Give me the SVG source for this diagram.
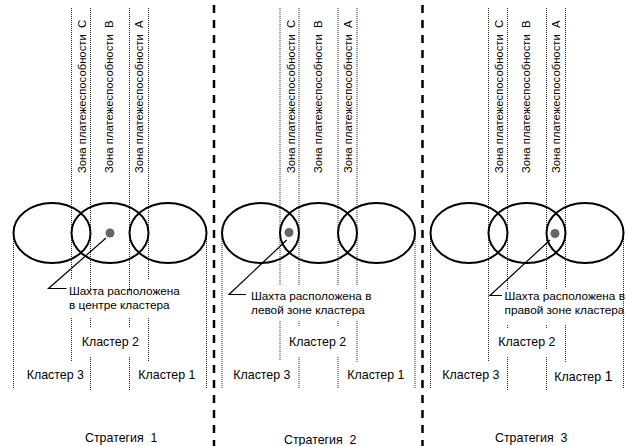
<svg xmlns="http://www.w3.org/2000/svg" width="626" height="446" viewBox="0 0 626 446">
<style>
text{font-family:"Liberation Sans",Arial,sans-serif;fill:#000}
.vt{font-size:11.3px;white-space:pre}
.lb{font-size:11.8px}
.cl{font-size:12.4px}
.st{font-size:12.4px;white-space:pre}
.dot{fill:none;stroke:#222;stroke-width:1;stroke-dasharray:1 1}
.el{fill:none;stroke:#000;stroke-width:2}
.mine{fill:#666}
.sep{fill:none;stroke:#000;stroke-width:2.5;stroke-dasharray:8 7}
.ld{fill:none;stroke:#000;stroke-width:1.2}
</style>
<rect width="626" height="446" fill="#fff"/>

<g id="separators">
<path class="sep" d="M214 5V446M422.5 5V446"/>
</g>

<g id="gridlines">
<path class="dot" d="M71.5 8V280M71.5 318V361M90.5 8V291M90.5 318V328M90.5 357V390M129.5 8V291M129.5 318V328M129.5 357V390M148.5 8V280M148.5 318V361M13.5 233V388M206.5 233V388"/>
<path class="dot" d="M280 8V285M280 321V360M299 8V285M299 321V327M299 357V388M338 8V285M338 321V327M338 357V388M357 8V285M357 321V363M222 233V388M415 233V388"/>
<path class="dot" d="M488.5 8V361M507.5 8V290M507.5 325V329M507.5 357V390M546.5 8V290M546.5 325V329M546.5 357V390M565.5 8V287M565.5 325V362M430.5 233V388M623.5 233V388"/>
</g>

<g id="zone-labels">
<text class="vt" xml:space="preserve" transform="translate(86,173) rotate(-90)">Зона платежеспособности  С</text>
<text class="vt" xml:space="preserve" transform="translate(113,173) rotate(-90)">Зона платежеспособности  В</text>
<text class="vt" xml:space="preserve" transform="translate(143,173) rotate(-90)">Зона платежеспособности  А</text>
<text class="vt" xml:space="preserve" transform="translate(294.5,173) rotate(-90)">Зона платежеспособности  С</text>
<text class="vt" xml:space="preserve" transform="translate(321.5,173) rotate(-90)">Зона платежеспособности  В</text>
<text class="vt" xml:space="preserve" transform="translate(351.5,173) rotate(-90)">Зона платежеспособности  А</text>
<text class="vt" xml:space="preserve" transform="translate(503,173) rotate(-90)">Зона платежеспособности  С</text>
<text class="vt" xml:space="preserve" transform="translate(530,173) rotate(-90)">Зона платежеспособности  В</text>
<text class="vt" xml:space="preserve" transform="translate(560,173) rotate(-90)">Зона платежеспособности  А</text>
</g>

<g id="s1-cluster3"><ellipse class="el" cx="52" cy="233" rx="38.5" ry="30"/><text class="cl" x="26.7" y="379">Кластер 3</text></g>
<g id="s1-cluster2"><ellipse class="el" cx="110" cy="233" rx="38.5" ry="30"/><text class="cl" x="81.7" y="346">Кластер 2</text></g>
<g id="s1-cluster1"><ellipse class="el" cx="168" cy="233" rx="38.5" ry="30"/><text class="cl" x="138.3" y="379">Кластер 1</text></g>
<g id="s1-mine"><circle class="mine" cx="110" cy="233" r="4.5"/>
<text class="lb" x="69" y="295">Шахта расположена</text>
<text class="lb" x="69" y="309">в центре кластера</text></g>

<g id="s2-cluster3"><ellipse class="el" cx="260.5" cy="233" rx="38.5" ry="30"/><text class="cl" x="233.3" y="378.5">Кластер 3</text></g>
<g id="s2-cluster2"><ellipse class="el" cx="318.5" cy="233" rx="38.5" ry="30"/><text class="cl" x="289" y="345.5">Кластер 2</text></g>
<g id="s2-cluster1"><ellipse class="el" cx="376.5" cy="233" rx="38.5" ry="30"/><text class="cl" x="347.3" y="378.5">Кластер 1</text></g>
<g id="s2-mine"><circle class="mine" cx="289" cy="232.5" r="4.5"/>
<text class="lb" x="251" y="299.5">Шахта расположена в</text>
<text class="lb" x="251" y="314">левой зоне кластера</text></g>

<g id="s3-cluster3"><ellipse class="el" cx="469" cy="233" rx="38.5" ry="30"/><text class="cl" x="442.3" y="379">Кластер 3</text></g>
<g id="s3-cluster2"><ellipse class="el" cx="527" cy="233" rx="38.5" ry="30"/><text class="cl" x="498.3" y="345.5">Кластер 2</text></g>
<g id="s3-cluster1"><ellipse class="el" cx="585" cy="233" rx="38.5" ry="30"/><text class="cl" x="554.3" y="381">Кластер <tspan font-size="14.5">1</tspan></text></g>
<g id="s3-mine"><circle class="mine" cx="555" cy="233.5" r="4.5"/>
<text class="lb" x="504.5" y="300">Шахта расположена в</text>
<text class="lb" x="504.5" y="314">правой зоне кластера</text></g>

<g id="connectors">
<path class="ld" d="M106 238L48.5 288.5H66.5"/>
<path class="ld" d="M286.7 240L229 294.5H246"/>
<path class="ld" d="M550 240L490 295.5H502"/>
</g>

<g id="strategies">
<text class="st" xml:space="preserve" x="85" y="442">Стратегия  1</text>
<text class="st" xml:space="preserve" x="284" y="444">Стратегия  2</text>
<text class="st" xml:space="preserve" x="495" y="442">Стратегия  3</text>
</g>
</svg>
